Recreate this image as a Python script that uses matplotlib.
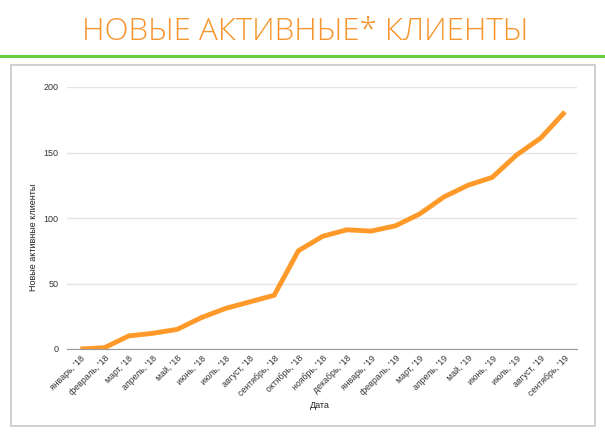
import matplotlib
matplotlib.use('Agg')
import matplotlib.pyplot as plt
from matplotlib.patches import Rectangle
from matplotlib.lines import Line2D

months = ['январь', 'февраль', 'март', 'апрель', 'май', 'июнь', 'июль',
          'август', 'сентябрь', 'октябрь', 'ноябрь', 'декабрь',
          'январь', 'февраль', 'март', 'апрель', 'май', 'июнь', 'июль',
          'август', 'сентябрь']
years = ['18'] * 12 + ['19'] * 9
labels = ["%s, '%s" % (m, y) for m, y in zip(months, years)]
clients = [0, 1, 10, 12, 15, 24, 31, 36, 41, 75, 86, 91,
           90, 94, 103, 116, 125, 131, 148, 161, 181]

plt.rcParams['font.family'] = ['Liberation Sans', 'DejaVu Sans']

W, H = 605, 433
fig = plt.figure(figsize=(W / 100, H / 100), dpi=100)

# title and green rule
fig.text(0.505, 1 - 32 / H, 'НОВЫЕ АКТИВНЫЕ* КЛИЕНТЫ', ha='center', va='center',
         fontsize=22.6, color='#f7962f', family=['Open Sans', 'DejaVu Sans'],
         fontweight='light')
fig.add_artist(Line2D([0, 1], [1 - 56 / H, 1 - 56 / H], color='#6acd3f',
                      lw=2.2, transform=fig.transFigure))
# chart frame
fig.add_artist(Rectangle((11 / W, 1 - 426 / H), (595 - 11) / W, (426 - 65) / H,
                         fill=False, edgecolor='#c8c8c8', lw=1.2,
                         transform=fig.transFigure))

ax = fig.add_axes([67 / W, 1 - 349 / H, (577 - 67) / W, (349 - 87) / H])
xs = list(range(len(clients)))
ax.plot(xs, clients, color='#ff9a2a', lw=3.5, solid_joinstyle='miter',
        solid_capstyle='butt')
ax.set_xlim(-0.55, len(clients) - 0.5)
ax.set_ylim(0, 200)
ax.set_yticks([0, 50, 100, 150, 200])
ax.grid(axis='y', color='#e4e4e4', lw=1)
ax.set_axisbelow(True)
for s in ['top', 'right', 'left']:
    ax.spines[s].set_visible(False)
ax.spines['bottom'].set_color('#999999')
ax.tick_params(length=0, labelsize=6.5, colors='#333333')
ax.tick_params(axis='y', pad=6)
ax.set_xticks(xs)
ax.set_xticklabels(labels, rotation=45, ha='right', rotation_mode='anchor',
                   fontsize=6.3)

fig.text(33 / W, 1 - 237 / H, 'Новые активные клиенты', rotation=90,
         ha='center', va='center', fontsize=6.5, color='#222222')
fig.text(320 / W, 1 - 405 / H, 'Дата', ha='center', va='center',
         fontsize=6.5, color='#222222')

fig.savefig('out.png', dpi=100)
